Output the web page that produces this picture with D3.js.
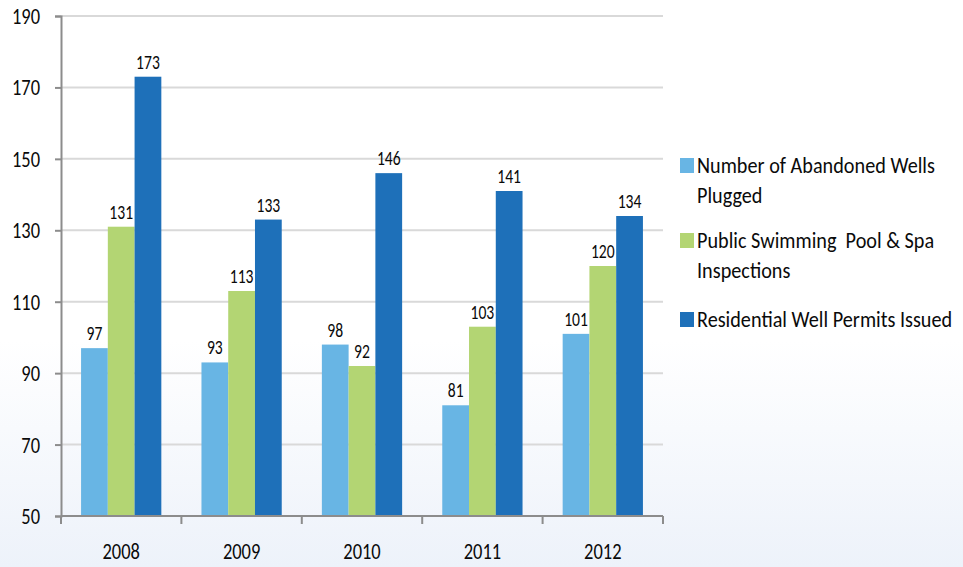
<!DOCTYPE html>
<html>
<head>
<meta charset="utf-8">
<script src="https://cdn.jsdelivr.net/npm/d3@7"></script>
<style>
  html, body { margin: 0; padding: 0; background: #fff; }
  svg text { font-family: Carlito, Lato, "Open Sans", sans-serif; fill: #0a0a0a; white-space: pre; }
</style>
</head>
<body>
<svg id="chart"></svg>
<script>
// dados
const years = ["2008", "2009", "2010", "2011", "2012"];
const seriesNames = [
    "Number of Abandoned Wells Plugged",
    "Public Swimming  Pool & Spa Inspections",
    "Residential Well Permits Issued"
];
const wellsPlugged = [97, 93, 98, 81, 101];
const poolInspections = [131, 113, 92, 103, 120];
const wellPermits = [173, 133, 146, 141, 134];
const yTicks = [50, 70, 90, 110, 130, 150, 170, 190];
const legendLines = [
    ["Number of Abandoned Wells", "Plugged"],
    ["Public Swimming  Pool & Spa", "Inspections"],
    ["Residential Well Permits Issued"]
];
const colors = ["#68b5e4", "#b3d573", "#1e70b9"];

const W = 963, H = 567;
const plotLeft = 61, plotRight = 663, plotTop = 16, plotBottom = 516;

const svg = d3.select("#chart")
    .attr("width", W)
    .attr("height", H);

// texto estreito (imita Calibri esticado)
function label(sel, x, yPos, size, sx, anchor) {
    return sel.append("text")
        .attr("transform", `translate(${x},${yPos}) scale(${sx},1)`)
        .attr("text-anchor", anchor)
        .attr("xml:space", "preserve")
        .style("font-size", size + "px");
}

// fundo com degradê azulado em baixo
const grad = svg.append("defs").append("linearGradient")
    .attr("id", "bg")
    .attr("x1", 0).attr("y1", 0).attr("x2", 0).attr("y2", 1);
grad.append("stop").attr("offset", "0.6").attr("stop-color", "#ffffff");
grad.append("stop").attr("offset", "1").attr("stop-color", "#edf2fa");
svg.append("rect")
    .attr("width", W).attr("height", H)
    .attr("fill", "url(#bg)");

const y = d3.scaleLinear().domain([50, 190]).range([plotBottom, plotTop]);
const x0 = d3.scaleBand().domain(years).range([plotLeft, plotRight]);
const x1 = d3.scaleBand().domain(d3.range(3)).range([0, x0.bandwidth()]).paddingOuter(0.75);

// linhas de grade
svg.append("g")
    .selectAll("line")
    .data(yTicks.slice(1))
    .join("line")
    .attr("x1", plotLeft).attr("x2", plotRight)
    .attr("y1", d => y(d)).attr("y2", d => y(d))
    .attr("stroke", "#d9d9d9")
    .attr("stroke-width", 2);

// barras
const values = years.map((yr, i) => [wellsPlugged[i], poolInspections[i], wellPermits[i]]);
const groups = svg.append("g")
    .selectAll("g")
    .data(years)
    .join("g")
    .attr("transform", d => `translate(${x0(d)},0)`);

groups.selectAll("rect")
    .data((d, i) => values[i].map((v, s) => ({ v, s })))
    .join("rect")
    .attr("x", d => x1(d.s))
    .attr("width", x1.bandwidth())
    .attr("y", d => y(d.v))
    .attr("height", d => plotBottom - y(d.v))
    .attr("fill", d => colors[d.s]);

groups.each(function(yr, i) {
    const g = d3.select(this);
    values[i].forEach((v, s) => {
        label(g, x1(s) + x1.bandwidth() / 2, y(v) - 8, 19.5, 0.8, "middle").text(v);
    });
});

// eixo Y
const yAxis = svg.append("g")
    .attr("transform", `translate(${plotLeft},0)`)
    .call(d3.axisLeft(y).tickValues(yTicks).tickSize(6).tickFormat(""));
yAxis.select(".domain").attr("stroke", "#8c8c8c").attr("stroke-width", 2);
yAxis.selectAll(".tick line").attr("stroke", "#8c8c8c").attr("stroke-width", 2);
yTicks.forEach(t => {
    label(svg, 40, y(t) + 8, 22, 0.84, "end").text(t);
});

// eixo X
const xAxis = svg.append("g")
    .attr("transform", `translate(0,${plotBottom})`);
xAxis.append("line")
    .attr("x1", plotLeft).attr("x2", plotRight)
    .attr("stroke", "#8c8c8c").attr("stroke-width", 2);
xAxis.selectAll(".xt")
    .data(years.concat(["end"]))
    .join("line")
    .attr("class", "xt")
    .attr("x1", d => d === "end" ? plotRight : x0(d))
    .attr("x2", d => d === "end" ? plotRight : x0(d))
    .attr("y1", 0).attr("y2", 8)
    .attr("stroke", "#8c8c8c").attr("stroke-width", 2);
years.forEach(yr => {
    label(xAxis, x0(yr) + x0.bandwidth() / 2, 43, 22, 0.84, "middle").text(yr);
});

// legenda
const legendTop = [158, 233, 312];
const legend = svg.append("g")
    .selectAll("g")
    .data(seriesNames)
    .join("g")
    .attr("transform", (d, i) => `translate(680,${legendTop[i]})`);
legend.append("rect")
    .attr("width", 14).attr("height", 15)
    .attr("fill", (d, i) => colors[i]);
legend.each(function(d, i) {
    const g = d3.select(this);
    legendLines[i].forEach((line, j) => {
        label(g, 17, 15 + j * 30, 22, 0.92, "start").text(line);
    });
});
</script>
</body>
</html>
